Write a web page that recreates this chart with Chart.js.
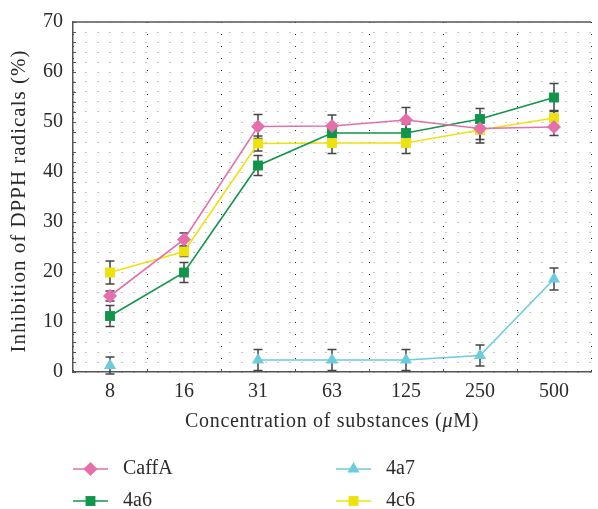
<!DOCTYPE html>
<html>
<head>
<meta charset="utf-8">
<script src="https://cdn.jsdelivr.net/npm/chart.js@4.4.1/dist/chart.umd.min.js"></script>
<style>
  html, body { margin: 0; padding: 0; background: #fff; }
  #wrap { width: 598px; height: 509px; position: relative; }
</style>
</head>
<body>
<div id="wrap"><canvas id="dpphChart"></canvas></div>
<script>
// Values
const concentrations = ['8', '16', '31', '63', '125', '250', '500'];
const yTickLabels = [0, 10, 20, 30, 40, 50, 60, 70];

const caffA = [15.2, 26.5, 49.1, 49.2, 50.4, 48.7, 49.0];
const caffAErr = [1.0, 1.3, 2.4, 2.2, 2.5, 2.2, 1.7];
const a6 = [11.2, 19.9, 41.3, 47.8, 47.8, 50.6, 54.9];
const a6Err = [2.1, 2.0, 2.0, 1.8, 1.8, 2.1, 2.8];
const a7 = [1.3, null, 2.4, 2.4, 2.4, 3.3, 18.6];
const a7Err = [1.7, null, 2.1, 2.1, 2.1, 2.1, 2.2];
const c6 = [19.9, 24.1, 45.7, 45.8, 45.8, 48.4, 50.8];
const c6Err = [2.3, 1.0, 1.5, 2.1, 2.1, 2.6, 1.5];

const FONT = "'Liberation Serif', 'Times New Roman', serif";
const TEXT = '#2b2b2b';
const AXIS = '#555';

const series = (label, data, err, color, style) => ({
    label,
    data,
    errors: err,
    borderColor: color,
    backgroundColor: color,
    pointBackgroundColor: color,
    pointBorderColor: color,
    pointBorderWidth: 0,
    pointStyle: style,
    pointRadius: 7,
    pointHoverRadius: 7,
    borderWidth: 1.6,
    tension: 0,
    spanGaps: false
});

// error bars, drawn under the markers
const errorBars = {
    id: 'errorBars',
    beforeDatasetsDraw(chart) {
        const { ctx, scales: { y } } = chart;
        ctx.save();
        ctx.strokeStyle = '#444';
        ctx.lineWidth = 1.5;
        chart.data.datasets.forEach((ds, i) => {
            const meta = chart.getDatasetMeta(i);
            ds.data.forEach((v, j) => {
                const e = ds.errors[j];
                if (v === null || e === null) return;
                const x = meta.data[j].x;
                const top = y.getPixelForValue(v + e);
                const bot = y.getPixelForValue(v - e);
                ctx.beginPath();
                ctx.moveTo(x, top); ctx.lineTo(x, bot);
                ctx.moveTo(x - 4.5, top); ctx.lineTo(x + 4.5, top);
                ctx.moveTo(x - 4.5, bot); ctx.lineTo(x + 4.5, bot);
                ctx.stroke();
            });
        });
        ctx.restore();
    }
};

// frame, small ticks, axis titles (italic mu), legend
const decorations = {
    id: 'decorations',
    afterDraw(chart) {
        const { ctx, chartArea: a, scales: { x, y } } = chart;
        ctx.save();

        // top border
        ctx.strokeStyle = AXIS;
        ctx.lineWidth = 1.5;
        ctx.beginPath();
        ctx.moveTo(a.left, a.top); ctx.lineTo(a.right, a.top);
        ctx.stroke();

        // inward minor ticks
        ctx.lineWidth = 1;
        ctx.beginPath();
        y.ticks.forEach(t => {
            const py = Math.round(y.getPixelForValue(t.value)) + 0.5;
            ctx.moveTo(a.left, py); ctx.lineTo(a.left + 3, py);
        });
        for (let i = 1; i < concentrations.length; i++) {
            const px = Math.round((x.getPixelForValue(i - 1) + x.getPixelForValue(i)) / 2) + 0.5;
            ctx.moveTo(px, a.bottom); ctx.lineTo(px, a.bottom - 3);
        }
        ctx.stroke();

        // x title
        ctx.fillStyle = TEXT;
        ctx.textBaseline = 'middle';
        ctx.letterSpacing = '0.7px';
        const parts = [
            ['Concentration of substances (', `20px ${FONT}`],
            ['\u03bc', `italic 20px ${FONT}`],
            ['M)', `20px ${FONT}`]
        ];
        let total = 0;
        parts.forEach(([s, f]) => { ctx.font = f; total += ctx.measureText(s).width; });
        let tx = (a.left + a.right) / 2 - total / 2;
        parts.forEach(([s, f]) => {
            ctx.font = f;
            ctx.textAlign = 'left';
            ctx.fillText(s, tx, 422);
            tx += ctx.measureText(s).width;
        });

        // y title
        ctx.save();
        ctx.translate(19, 201);
        ctx.rotate(-Math.PI / 2);
        ctx.font = `21px ${FONT}`;
        ctx.letterSpacing = '1px';
        ctx.textAlign = 'center';
        ctx.fillText('Inhibition of DPPH radicals (%)', 0, 0);
        ctx.restore();
        ctx.letterSpacing = '0px';

        // legend: two columns
        const cols = [73, 336];
        const rows = [469, 501];
        chart.data.datasets.forEach((ds, i) => {
            const x0 = cols[Math.floor(i / 2)];
            const y0 = rows[i % 2];
            ctx.strokeStyle = ds.borderColor;
            ctx.lineWidth = 1.6;
            ctx.beginPath();
            ctx.moveTo(x0, y0); ctx.lineTo(x0 + 35, y0);
            ctx.stroke();
            ctx.fillStyle = ds.backgroundColor;
            Chart.helpers.drawPoint(ctx, {
                pointStyle: ds.pointStyle, radius: 7, rotation: 0, borderWidth: 0
            }, x0 + 17.5, y0);
            ctx.fillStyle = TEXT;
            ctx.font = `20px ${FONT}`;
            ctx.textAlign = 'left';
            ctx.fillText(ds.label, x0 + 50, y0);
        });

        ctx.restore();
    }
};

const ctx = document.getElementById('dpphChart').getContext('2d');
const dpphChart = new Chart(ctx, {
    type: 'line',
    data: {
        labels: concentrations,
        datasets: [
            series('CaffA', caffA, caffAErr, '#E46FAB', 'rectRot'),
            series('4a6', a6, a6Err, '#10964A', 'rect'),
            series('4a7', a7, a7Err, '#6ACCDC', 'triangle'),
            series('4c6', c6, c6Err, '#EEE20E', 'rect')
        ]
    },
    options: {
        responsive: true,
        maintainAspectRatio: false,
        animation: false,
        layout: { padding: { top: 22, right: 0, bottom: 72, left: 0 } },
        plugins: {
            legend: { display: false },
            tooltip: { enabled: false }
        },
        scales: {
            x: {
                offset: true,
                grid: { offset: true, color: '#222', lineWidth: 1, drawTicks: false },
                border: { display: true, color: AXIS, width: 1.5, dash: [1, 11] },
                ticks: { color: TEXT, font: { family: FONT, size: 20 }, padding: 8 },
                afterFit(scale) { scale.height = 65; }
            },
            y: {
                min: 0,
                max: 70,
                grid: { color: '#8a8a8a', lineWidth: 1, drawTicks: false },
                border: { display: true, color: AXIS, width: 1.5, dash: [1, 11] },
                ticks: {
                    stepSize: 2,
                    autoSkip: false,
                    color: TEXT,
                    font: { family: FONT, size: 20 },
                    padding: 10,
                    callback: v => (yTickLabels.includes(v) ? v : '')
                },
                afterFit(scale) { scale.width = 73; }
            }
        }
    },
    plugins: [errorBars, decorations]
});
</script>
</body>
</html>
